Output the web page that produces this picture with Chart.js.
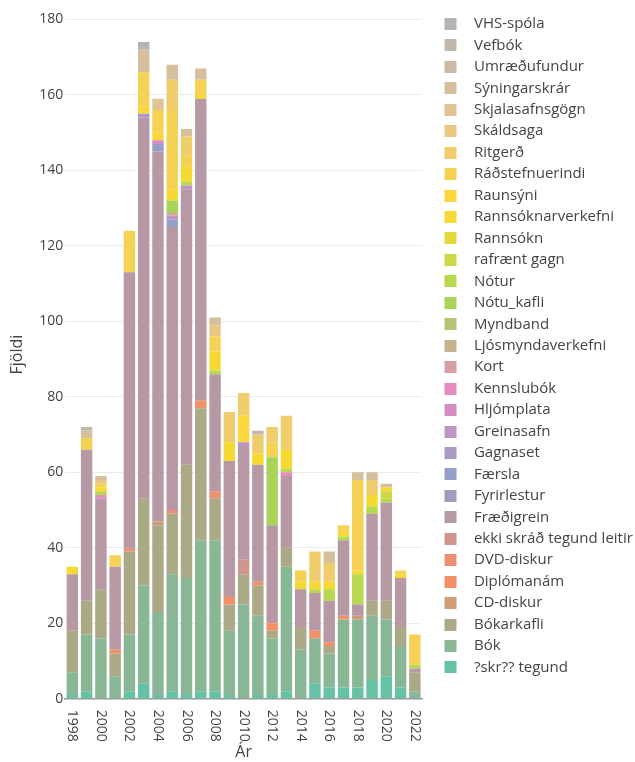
<!DOCTYPE html>
<html>
<head>
<meta charset="utf-8">
<script src="https://cdn.jsdelivr.net/npm/chart.js@4.4.1/dist/chart.umd.min.js"></script>
<style>
    html, body { margin: 0; padding: 0; background: #fff; }
</style>
</head>
<body>
<canvas id="myChart" width="635" height="762"></canvas>
<script>
// Ár (x-ás)
const years = ['1998', '1999', '2000', '2001', '2002', '2003', '2004', '2005', '2006', '2007', '2008', '2009',
    '2010', '2011', '2012', '2013', '2014', '2015', '2016', '2017', '2018', '2019', '2020', '2021', '2022'];

// Fjöldi eftir tegund, eitt gildi á ár (1998-2022)
const skrTegund =          [1, 2, 0, 0, 2, 4, 1, 2, 1, 2, 2, 1, 0, 1, 1, 2, 0, 4, 3, 3, 3, 5, 6, 3, 0];
const bok =                [6, 15, 16, 6, 15, 26, 22, 31, 31, 40, 40, 17, 25, 21, 15, 33, 13, 12, 9, 18, 18, 17, 15, 11, 2];
const bokarkafli =         [11, 9, 13, 6, 22, 23, 23, 16, 30, 35, 11, 7, 8, 8, 2, 5, 6, 0, 2, 0, 0, 4, 5, 5, 5];
const cdDiskur =           [0, 0, 0, 0, 0, 0, 1, 0, 0, 0, 0, 0, 0, 0, 0, 0, 0, 0, 0, 0, 1, 0, 0, 0, 0];
const diplomanam =         [0, 0, 0, 1, 0, 0, 0, 0, 0, 2, 0, 2, 0, 1, 2, 0, 0, 2, 1, 1, 0, 0, 0, 0, 0];
const dvdDiskur =          [0, 0, 0, 0, 1, 0, 0, 1, 0, 0, 2, 0, 0, 0, 0, 0, 0, 0, 0, 0, 0, 0, 0, 0, 0];
const ekkiSkrad =          [0, 0, 0, 0, 0, 0, 0, 0, 0, 0, 0, 0, 4, 0, 0, 0, 0, 0, 0, 0, 0, 0, 0, 0, 0];
const fraedigrein =        [15, 40, 24, 22, 73, 101, 98, 75, 73, 80, 31, 36, 30, 31, 26, 19, 10, 10, 11, 20, 3, 23, 26, 13, 1];
const fyrirlestur =        [0, 0, 0, 0, 0, 0, 0, 0, 0, 0, 0, 0, 0, 0, 0, 0, 0, 0, 0, 0, 0, 0, 0, 0, 0];
const faersla =            [0, 0, 0, 0, 0, 0, 2, 2, 0, 0, 0, 0, 0, 0, 0, 0, 0, 0, 0, 0, 0, 0, 0, 0, 0];
const gagnaset =           [0, 0, 0, 0, 0, 1, 0, 0, 0, 0, 0, 0, 0, 0, 0, 0, 0, 0, 0, 0, 0, 0, 0, 0, 0];
const greinasafn =         [0, 0, 0, 0, 0, 0, 0, 1, 1, 0, 0, 0, 1, 0, 0, 0, 0, 0, 0, 0, 0, 0, 0, 0, 0];
const hljomplata =         [0, 0, 0, 0, 0, 0, 1, 0, 0, 0, 0, 0, 0, 0, 0, 0, 0, 0, 0, 0, 0, 0, 0, 0, 0];
const kennslubok =         [0, 0, 1, 0, 0, 0, 0, 0, 0, 0, 0, 0, 0, 0, 0, 1, 0, 0, 0, 0, 0, 0, 0, 0, 0];
const kort =               [0, 0, 0, 0, 0, 0, 0, 0, 0, 0, 0, 0, 0, 0, 0, 0, 0, 0, 0, 0, 0, 0, 0, 0, 0];
const ljosmyndaverkefni =  [0, 0, 0, 0, 0, 0, 0, 1, 0, 0, 0, 0, 0, 0, 0, 0, 0, 0, 0, 0, 0, 0, 0, 0, 0];
const myndband =           [0, 0, 0, 0, 0, 0, 0, 0, 0, 0, 0, 0, 0, 0, 0, 0, 0, 0, 0, 0, 0, 0, 0, 0, 0];
const notuKafli =          [0, 0, 0, 0, 0, 0, 0, 3, 0, 0, 0, 0, 0, 0, 18, 0, 0, 0, 0, 0, 0, 0, 0, 0, 0];
const notur =              [0, 0, 1, 0, 0, 0, 0, 0, 1, 0, 1, 0, 0, 0, 0, 1, 0, 1, 3, 1, 8, 2, 1, 0, 1];
const rafraentGagn =       [0, 0, 0, 0, 0, 0, 0, 0, 0, 0, 0, 0, 0, 0, 0, 0, 0, 0, 0, 0, 0, 0, 2, 0, 0];
const rannsokn =           [0, 0, 0, 0, 0, 0, 0, 0, 0, 0, 0, 0, 0, 0, 0, 0, 0, 0, 0, 0, 0, 0, 0, 0, 0];
const rannsoknarverkefni = [2, 0, 1, 0, 0, 0, 0, 3, 4, 1, 5, 5, 0, 3, 0, 5, 2, 2, 2, 1, 1, 3, 1, 1, 0];
const raunsyni =           [0, 0, 0, 0, 0, 2, 2, 0, 0, 0, 0, 0, 7, 0, 0, 0, 0, 0, 0, 0, 0, 0, 0, 0, 0];
const radstefnuerindi =    [0, 3, 1, 3, 11, 9, 6, 21, 3, 4, 4, 0, 0, 0, 4, 0, 3, 0, 0, 2, 24, 0, 0, 1, 8];
const ritgerd =            [0, 0, 0, 0, 0, 0, 0, 8, 5, 0, 0, 8, 6, 5, 4, 9, 0, 8, 5, 0, 0, 4, 0, 0, 0];
const skaldsaga =          [0, 0, 1, 0, 0, 0, 0, 0, 0, 0, 3, 0, 0, 0, 0, 0, 0, 0, 0, 0, 0, 0, 0, 0, 0];
const skjalasafnsgogn =    [0, 0, 0, 0, 0, 0, 3, 0, 0, 0, 0, 0, 0, 0, 0, 0, 0, 0, 0, 0, 0, 0, 0, 0, 0];
const syningarskrar =      [0, 2, 1, 0, 0, 6, 0, 4, 2, 3, 2, 0, 0, 0, 0, 0, 0, 0, 3, 0, 2, 2, 1, 0, 0];
const umraedufundur =      [0, 0, 0, 0, 0, 0, 0, 0, 0, 0, 0, 0, 0, 0, 0, 0, 0, 0, 0, 0, 0, 0, 0, 0, 0];
const vefbok =             [0, 1, 0, 0, 0, 0, 0, 0, 0, 0, 0, 0, 0, 1, 0, 0, 0, 0, 0, 0, 0, 0, 0, 0, 0];
const vhsSpola =           [0, 0, 0, 0, 0, 2, 0, 0, 0, 0, 0, 0, 0, 0, 0, 0, 0, 0, 0, 0, 0, 0, 0, 0, 0];

// Tegundir, neðst fyrst
const seriesNames = ['?skr?? tegund', 'Bók', 'Bókarkafli', 'CD-diskur', 'Diplómanám', 'DVD-diskur',
    'ekki skráð tegund leitir', 'Fræðigrein', 'Fyrirlestur', 'Færsla', 'Gagnaset', 'Greinasafn', 'Hljómplata',
    'Kennslubók', 'Kort', 'Ljósmyndaverkefni', 'Myndband', 'Nótu_kafli', 'Nótur', 'rafrænt gagn', 'Rannsókn',
    'Rannsóknarverkefni', 'Raunsýni', 'Ráðstefnuerindi', 'Ritgerð', 'Skáldsaga', 'Skjalasafnsgögn',
    'Sýningarskrár', 'Umræðufundur', 'Vefbók', 'VHS-spóla'];
const seriesValues = [skrTegund, bok, bokarkafli, cdDiskur, diplomanam, dvdDiskur, ekkiSkrad, fraedigrein,
    fyrirlestur, faersla, gagnaset, greinasafn, hljomplata, kennslubok, kort, ljosmyndaverkefni, myndband,
    notuKafli, notur, rafraentGagn, rannsokn, rannsoknarverkefni, raunsyni, radstefnuerindi, ritgerd,
    skaldsaga, skjalasafnsgogn, syningarskrar, umraedufundur, vefbok, vhsSpola];

// Litir: Set2 teygt yfir allar tegundir
const set2 = ['#66c2a5', '#fc8d62', '#8da0cb', '#e78ac3', '#a6d854', '#ffd92f', '#e5c494', '#b3b3b3'];

function hexToRgb(hex) {
    const n = parseInt(hex.slice(1), 16);
    return [(n >> 16) & 255, (n >> 8) & 255, n & 255];
}

function rampColor(i, n) {
    const pos = i / (n - 1) * (set2.length - 1);
    const k = Math.min(Math.floor(pos), set2.length - 2);
    const t = pos - k;
    const a = hexToRgb(set2[k]);
    const b = hexToRgb(set2[k + 1]);
    const c = a.map((v, j) => Math.round(v + (b[j] - v) * t));
    return `rgb(${c[0]}, ${c[1]}, ${c[2]})`;
}

// Litakassi í skýringu, með bili vinstra megin
function swatch(color) {
    const c = document.createElement('canvas');
    c.width = 38;
    c.height = 12;
    const g = c.getContext('2d');
    g.fillStyle = color;
    g.fillRect(16, 0, 12, 12);
    return c;
}

const colors = seriesNames.map((_, i) => rampColor(i, seriesNames.length));
const swatches = colors.map(swatch);

// Ártöl lóðrétt, lesin ofan frá og niður
const verticalYearLabels = {
    id: 'verticalYearLabels',
    afterDraw(chart) {
        const xs = chart.scales.x;
        const ctx = chart.ctx;
        ctx.save();
        ctx.font = '14px "Open Sans"';
        ctx.fillStyle = '#444';
        ctx.textAlign = 'left';
        ctx.textBaseline = 'middle';
        xs.ticks.forEach((tick, i) => {
            if (!tick.label) return;
            ctx.save();
            ctx.translate(xs.getPixelForTick(i), xs.top + 11);
            ctx.rotate(Math.PI / 2);
            ctx.fillText(tick.label, 0, 0);
            ctx.restore();
        });
        ctx.restore();
    }
};

document.addEventListener('DOMContentLoaded', function() {
    const ctx = document.getElementById('myChart').getContext('2d');
    const myChart = new Chart(ctx, {
        type: 'bar',
        data: {
            labels: years,
            datasets: seriesNames.map((name, i) => ({
                label: name,
                data: seriesValues[i],
                backgroundColor: colors[i],
                borderWidth: 0,
                barPercentage: 0.8,
                categoryPercentage: 1.0
            }))
        },
        options: {
            responsive: false,
            animation: false,
            layout: {
                padding: { top: 10, right: 2, bottom: 0, left: 6 }
            },
            scales: {
                x: {
                    stacked: true,
                    grid: { display: false, drawTicks: false },
                    border: { color: '#999', width: 1.5 },
                    ticks: {
                        autoSkip: false,
                        minRotation: 90,
                        maxRotation: 90,
                        padding: 0,
                        color: 'transparent',
                        font: { family: 'Open Sans', size: 14 },
                        callback: function(value) {
                            const y = Number(years[value]);
                            return y % 2 === 0 ? years[value] : '';
                        }
                    },
                    title: {
                        display: true,
                        text: 'Ár',
                        color: '#444',
                        font: { family: 'Open Sans', size: 16 },
                        padding: { top: 12, bottom: 0 }
                    }
                },
                y: {
                    stacked: true,
                    min: 0,
                    max: 182.4,
                    grid: { color: '#ebebeb', drawTicks: false },
                    border: { display: false },
                    ticks: {
                        stepSize: 20,
                        includeBounds: false,
                        padding: 2,
                        color: '#444',
                        font: { family: 'Open Sans', size: 14 }
                    },
                    title: {
                        display: true,
                        text: 'Fjöldi',
                        color: '#444',
                        font: { family: 'Open Sans', size: 16 },
                        padding: { top: 2, bottom: 10 }
                    }
                }
            },
            plugins: {
                legend: {
                    position: 'right',
                    align: 'start',
                    reverse: true,
                    maxWidth: 211,
                    labels: {
                        usePointStyle: true,
                        pointStyleWidth: 38,
                        boxHeight: 12,
                        padding: 6.45,
                        color: '#444',
                        font: { family: 'Open Sans', size: 15 },
                        generateLabels: function(chart) {
                            const items = Chart.defaults.plugins.legend.labels.generateLabels(chart);
                            items.forEach(function(item) {
                                item.pointStyle = swatches[item.datasetIndex];
                                item.lineWidth = 0;
                            });
                            return items;
                        }
                    }
                },
                tooltip: { enabled: false }
            }
        },
        plugins: [verticalYearLabels]
    });
});
</script>
</body>
</html>
